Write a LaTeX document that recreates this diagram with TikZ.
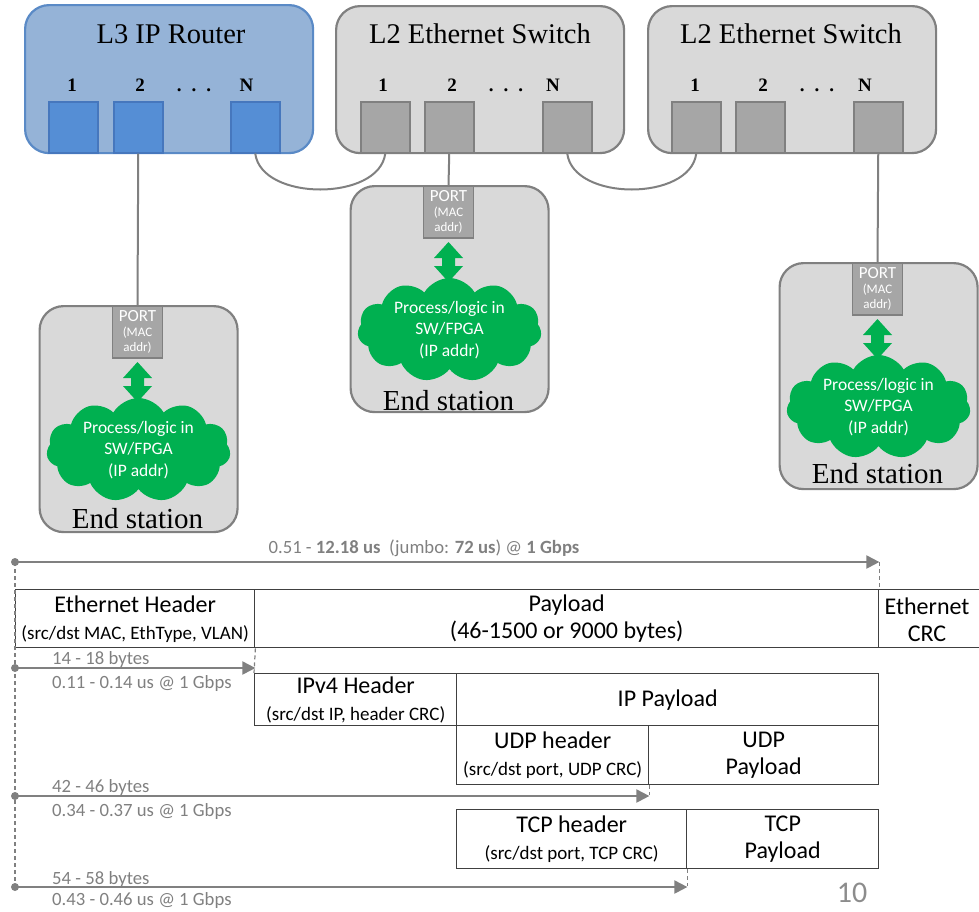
\documentclass[tikz,border=0pt]{standalone}
\usepackage{fontspec}
\setmainfont{Liberation Serif}
\newfontfamily\calfont{Carlito}
\usetikzlibrary{shapes.symbols,arrows.meta}
\definecolor{rtfill}{HTML}{95B3D7}
\definecolor{rtline}{HTML}{5A8AC6}
\definecolor{rpfill}{HTML}{558ED5}
\definecolor{rpline}{HTML}{4677BD}
\definecolor{swfill}{HTML}{D9D9D9}
\definecolor{swline}{HTML}{808080}
\definecolor{spfill}{HTML}{A6A6A6}
\definecolor{esgreen}{HTML}{00B050}
\definecolor{frline}{HTML}{404040}
\definecolor{tgrey}{HTML}{808080}
\definecolor{pgnum}{HTML}{8C8C8C}
\newcommand\subtxt[1]{{\fontsize{19}{22}\selectfont #1}}
\newcommand\myES[4]{%
  \node[esbox] (#1box) at ({#2-99},{#3}) {};
  \node[esport] (#1port) at ({#2},{#3}) {{\fontsize{17}{15}\selectfont PORT}\\(MAC\\addr)};
  \node[escloud] (#1cloud) at ({#2+1},{#3+145}) {Process/logic in\\SW/FPGA\\(IP addr)};
  \pic at ({#2},{#3+77}) {dblarr};
  \node[eslabel] (#1label) at ({#2},{#3+#4}) {End station};
}
\begin{document}
\begin{tikzpicture}[x=1pt,y=-1pt,
  dev/.style={rounded corners=24pt, line width=2.2pt, anchor=north west, inner sep=0pt},
  router/.style={dev, draw=rtline, fill=rtfill},
  switch/.style={dev, draw=swline, fill=swfill},
  port/.style={anchor=north west, inner sep=0pt, line width=1.5pt, minimum width=49pt, minimum height=51pt},
  rport/.style={port, draw=rpline, fill=rpfill},
  sport/.style={port, draw=swline, fill=spfill},
  devtitle/.style={anchor=base, inner sep=0pt, font=\fontsize{28.5}{30}\selectfont},
  pnum/.style={anchor=base, inner sep=0pt, font=\bfseries\fontsize{19}{20}\selectfont},
  wire/.style={draw=swline, line width=2pt},
  esbox/.style={draw=swline, fill=swfill, line width=2.2pt, rounded corners=24pt, anchor=north west, inner sep=0pt, minimum width=198pt, minimum height=226pt},
  esport/.style={draw=swline, fill=spfill, line width=1.5pt, anchor=north, minimum width=50pt, minimum height=52pt, inner sep=0pt, text=white, align=center, font=\calfont\fontsize{13}{15}\selectfont},
  escloud/.style={cloud, cloud puffs=11, cloud puff arc=120, cloud ignores aspect, fill=esgreen, minimum width=184pt, minimum height=104pt, inner sep=0pt, text=white, align=center, font=\calfont\fontsize{17.5}{21.5}\selectfont},
  eslabel/.style={anchor=base, inner sep=0pt, font=\fontsize{29}{30}\selectfont},
  dblarr/.pic={\fill[esgreen] (0,-20)--(14.5,-4)--(6.5,-4)--(6.5,4)--(14.5,4)--(0,20)--(-14.5,4)--(-6.5,4)--(-6.5,-4)--(-14.5,-4)--cycle;},
  fbox/.style={draw=frline, line width=1.4pt, anchor=north west, inner sep=0pt, align=center, font=\calfont\fontsize{24}{27}\selectfont},
  ftext/.style={inner sep=0pt, align=center, font=\calfont\fontsize{24}{27}\selectfont},
  tarrow/.style={draw=tgrey, line width=2pt, -{Triangle[length=13pt,width=13pt]}},
  tdot/.style={fill=tgrey, circle, inner sep=0pt, minimum size=8pt},
  tdash/.style={draw=tgrey, line width=1.2pt, dash pattern=on 4pt off 3pt},
  tlabel/.style={text=tgrey, anchor=west, inner sep=0pt, font=\calfont\fontsize{18.7}{20}\selectfont}
]
\useasboundingbox (0,0) rectangle (979,911);
\clip (0,0) rectangle (979,911);

% ---- devices
\node[router, minimum width=288pt, minimum height=148pt] (rt) at (24,4) {};
\node[switch, minimum width=288pt, minimum height=147pt] (sw1) at (335,5) {};
\node[switch, minimum width=288pt, minimum height=147pt] (sw2) at (647,5) {};

\node[devtitle] (rttitle) at (171,43) {L3 IP Router};
\node[devtitle] (sw1title) at (480,43) {L2 Ethernet Switch};
\node[devtitle] (sw2title) at (791,43) {L2 Ethernet Switch};

\node[rport] (r1) at (48,101) {};
\node[rport] (r2) at (113,101) {};
\node[rport] (rN) at (230,101) {};
\node[sport] (s1p1) at (360,101) {};
\node[sport] (s1p2) at (424,101) {};
\node[sport] (s1pN) at (542,101) {};
\node[sport] (s2p1) at (671,101) {};
\node[sport] (s2p2) at (735,101) {};
\node[sport] (s2pN) at (853,101) {};

\node[pnum] (rn1) at (72,91) {1};
\node[pnum] (rn2) at (140,91) {2};
\node[pnum] (rnd) at (194,91) {.\hspace{10pt}.\hspace{10pt}.};
\node[pnum] (rnN) at (246.5,91) {N};
\node[pnum] (s1n1) at (383,91) {1};
\node[pnum] (s1n2) at (452,91) {2};
\node[pnum] (s1nd) at (506,91) {.\hspace{10pt}.\hspace{10pt}.};
\node[pnum] (s1nN) at (553,91) {N};
\node[pnum] (s2n1) at (695,91) {1};
\node[pnum] (s2n2) at (763,91) {2};
\node[pnum] (s2nd) at (817,91) {.\hspace{10pt}.\hspace{10pt}.};
\node[pnum] (s2nN) at (865,91) {N};

% ---- end stations
\myES{e1}{137.5}{305}{223}
\myES{e2}{448.5}{185}{225}
\myES{e3}{877.5}{262}{221}

% ---- wires
\draw[wire] (r2.south) -- (e1port.north);
\draw[wire] (rN.south) .. controls +(6,48) and +(-6,48) .. (s1p1.south);
\draw[wire] (s1p2.south) -- (e2port.north);
\draw[wire] (s1pN.south) .. controls +(6,48) and +(-6,48) .. (s2p1.south);
\draw[wire] (s2pN.south) -- (e3port.north);

% ---- frame layout
\node[fbox, minimum width=239pt, minimum height=58pt] (ethh) at (15,589) {Ethernet Header\\\subtxt{(src/dst MAC, EthType, VLAN)}};
\node[fbox, minimum width=624pt, minimum height=58pt] (pay) at (254,589) {Payload\\(46-1500 or 9000 bytes)};
\node[fbox, minimum width=112pt, minimum height=58pt] (crc) at (878,589) {};
\node[ftext] (crctext) at (927,620) {Ethernet\\CRC};
\node[fbox, minimum width=202pt, minimum height=52pt] (ipv4) at (254,673) {IPv4 Header\\\subtxt{(src/dst IP, header CRC)}};
\node[fbox, minimum width=422pt, minimum height=52pt] (ippay) at (456,673) {IP Payload};
\node[fbox, minimum width=192pt, minimum height=59pt] (udph) at (456,725) {UDP header\\\subtxt{(src/dst port, UDP CRC)}};
\node[fbox, minimum width=230pt, minimum height=59pt] (udpp) at (648,725) {UDP\\Payload};
\node[fbox, minimum width=230pt, minimum height=59pt] (tcph) at (456,809) {TCP header\\\subtxt{(src/dst port, TCP CRC)}};
\node[fbox, minimum width=192pt, minimum height=59pt] (tcpp) at (686,809) {TCP\\Payload};

% ---- timing arrows
\coordinate (a0) at (15,562);
\coordinate (a1) at (15,668);
\coordinate (a2) at (15,796);
\coordinate (a3) at (15,887);
\draw[tdash] (a0) -- (a3);
\draw[tdash] (pay.north east |- a0) -- (pay.north east);
\draw[tdash] (ethh.south east) -- (ipv4.north west);
\draw[tdash] (udph.south east) -- ([yshift=1pt]udph.south east |- a2);
\draw[tdash] (tcph.south east) -- ([yshift=1pt]tcph.south east |- a3);
\draw[tarrow] (a0) -- (pay.north east |- a0);
\draw[tarrow] (a1) -- (ethh.south east |- a1);
\draw[tarrow] (a2) -- (udph.south east |- a2);
\draw[tarrow] (a3) -- (tcph.south east |- a3);
\node[tdot] (d0) at (a0) {};
\node[tdot] (d1) at (a1) {};
\node[tdot] (d2) at (a2) {};
\node[tdot] (d3) at (a3) {};

\node[tlabel, anchor=center] (l0) at (424,548) {0.51 - \textbf{12.18 us}\ \ (jumbo: \textbf{72 us}) @ \textbf{1 Gbps}};
\node[tlabel] (l1a) at (52,660) {14 - 18 bytes};
\node[tlabel] (l1b) at (52,684) {0.11 - 0.14 us @ 1 Gbps};
\node[tlabel] (l2a) at (52,787) {42 - 46 bytes};
\node[tlabel] (l2b) at (52,811) {0.34 - 0.37 us @ 1 Gbps};
\node[tlabel] (l3a) at (52,879) {54 - 58 bytes};
\node[tlabel] (l3b) at (52,900) {0.43 - 0.46 us @ 1 Gbps};

\node[inner sep=0pt, text=pgnum, font=\calfont\fontsize{30}{31}\selectfont] (pgno) at (852,893) {10};
\end{tikzpicture}
\end{document}
